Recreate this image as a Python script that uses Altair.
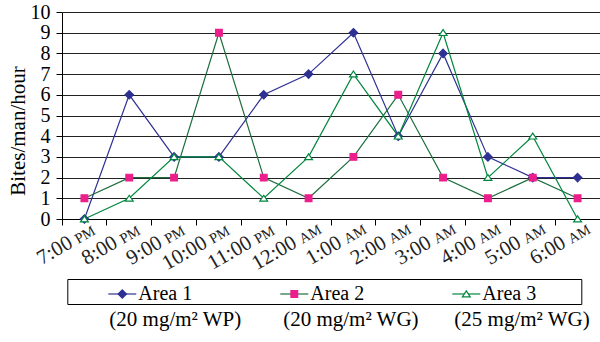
import altair as alt
import pandas as pd

# ---- data ----
times = ["7:00 PM", "8:00 PM", "9:00 PM", "10:00 PM", "11:00 PM", "12:00 AM",
         "1:00 AM", "2:00 AM", "3:00 AM", "4:00 AM", "5:00 AM", "6:00 AM"]
clock = ["7:00", "8:00", "9:00", "10:00", "11:00", "12:00",
         "1:00", "2:00", "3:00", "4:00", "5:00", "6:00"]
ampm = ["PM", "PM", "PM", "PM", "PM", "AM", "AM", "AM", "AM", "AM", "AM", "AM"]
series = ["Area 1", "Area 2", "Area 3"]
area1 = [0, 6, 3, 3, 6, 7, 9, 4, 8, 3, 2, 2]
area2 = [1, 2, 2, 9, 2, 1, 3, 6, 2, 1, 2, 1]
area3 = [0, 1, 3, 3, 1, 3, 7, 4, 9, 2, 4, 0]
notes = ["(20 mg/m\u00b2 WP)", "(20 mg/m\u00b2 WG)", "(25 mg/m\u00b2 WG)"]
y_title = "Bites/man/hour"

# ---- styles ----
SERIF = "Liberation Serif"
line_colors = ["#2E3192", "#1B6E3A", "#00873E"]
fill_colors = ["#2E3192", "#EC1E8C", "#FFFFFF"]
stroke_colors = ["#2E3192", "#EC1E8C", "#00873E"]
diamond = "M0,-0.3L0.3,0L0,0.3L-0.3,0Z"
square = "M-0.24,-0.24H0.24V0.24H-0.24Z"
triangle = "M0,-0.22L0.28,0.2L-0.28,0.2Z"

rows = []
for name, vals in zip(series, [area1, area2, area3]):
    for t, v in zip(times, vals):
        rows.append({"time": t, "value": v, "s1": name, "s2": name})
df = pd.DataFrame(rows)
lab = pd.DataFrame({"time": times, "hh": clock, "ap": ampm})
ttl = pd.DataFrame({"t": [y_title]})

W, H = 538, 207
nb = "\u00a0"
zw = "\u200b"
note_text = zw + nb * 8 + notes[0] + nb * 8 + notes[1] + nb * 6 + "\u2009" + notes[2]

common_legend = dict(
    orient="none", legendX=5.3, legendY=267, direction="horizontal",
    symbolSize=784, symbolStrokeWidth=1.2, symbolOffset=40, labelOffset=1,
    columnPadding=47, padding=0,
    labelFont=SERIF, labelFontSize=20, labelColor="black",
    labelExpr="datum.label == 'Area 3' ? datum.label + '" + nb * 9 + zw + "' : datum.label",
)
legend_a = alt.Legend(title=None, strokeColor="black", **common_legend)
legend_b = alt.Legend(
    title=note_text, titleOrient="bottom", titleAnchor="start", titlePadding=5,
    titleFont=SERIF, titleFontSize=21, titleFontWeight="normal", titleColor="black",
    titleLimit=700, labelOpacity=0, **common_legend)

xscale = alt.Scale(type="band", paddingInner=0, paddingOuter=0)
xaxis = alt.Axis(labels=False, title=None, bandPosition=0, tickSize=6,
                 tickColor="black", domainColor="black", grid=False)
yscale = alt.Scale(domain=[0, 10], nice=False)
yaxis = alt.Axis(values=list(range(11)), tickSize=6, labelPadding=6, labelOverlap=False,
                 labelFont=SERIF, labelFontSize=20, labelColor="black",
                 grid=True, gridColor="#222222", gridWidth=1,
                 domainColor="black", tickColor="black", title=None)


def xenc():
    return alt.X("time:N", sort=times, bandPosition=0.5, scale=xscale, axis=xaxis)


def yenc():
    return alt.Y("value:Q", scale=yscale, axis=yaxis)


lines = alt.Chart(df).mark_line(strokeWidth=1.2).encode(
    x=xenc(), y=yenc(),
    color=alt.Color("s1:N", scale=alt.Scale(range=line_colors), legend=legend_a),
)

points = alt.Chart(df).mark_point(size=784, opacity=1, strokeWidth=1.2).encode(
    x=xenc(), y=yenc(),
    shape=alt.Shape("s2:N", scale=alt.Scale(range=[diamond, square, triangle]), legend=legend_b),
    fill=alt.Fill("s2:N", scale=alt.Scale(range=fill_colors), legend=legend_b),
    stroke=alt.Stroke("s2:N", scale=alt.Scale(range=stroke_colors), legend=legend_b),
)

hh = alt.Chart(lab).mark_text(angle=330, align="right", baseline="alphabetic", dx=-12,
                              font=SERIF, fontSize=21, color="#222222").encode(
    x=xenc(), y=alt.value(H + 21.5), text="hh:N",
)
ap = alt.Chart(lab).mark_text(angle=330, align="left", baseline="alphabetic", dx=-7,
                              font=SERIF, fontSize=14.5, color="#222222").encode(
    x=xenc(), y=alt.value(H + 21.5), text="ap:N",
)
ytitle = alt.Chart(ttl).mark_text(angle=270, align="center", baseline="middle",
                                  font=SERIF, fontSize=21, color="black").encode(
    x=alt.value(-43), y=alt.value(119), text="t:N",
)

chart = alt.layer(lines, points, hh, ap, ytitle).properties(
    width=W, height=H,
    autosize=alt.AutoSizeParams(type="none"),
    padding={"left": 62, "top": 12, "right": 0, "bottom": 123},
    background="white",
).configure_view(stroke=None).configure_axis(
    labelFont=SERIF, labelFontSize=20, labelColor="black",
)

chart.save("out.html", embed_options={"renderer": "svg", "actions": False})
